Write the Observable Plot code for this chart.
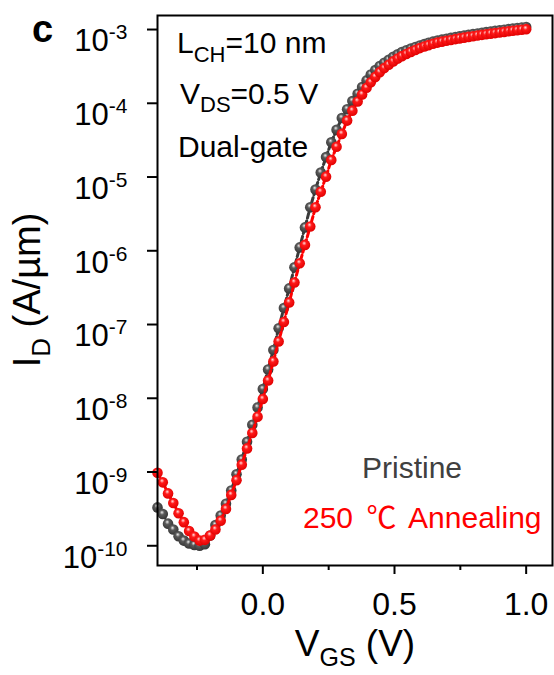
<!DOCTYPE html>
<html><head><meta charset="utf-8">
<script src="https://cdn.jsdelivr.net/npm/d3@7"></script>
<script src="https://cdn.jsdelivr.net/npm/@observablehq/plot@0.6"></script>
<style>html,body{margin:0;padding:0;background:#fff} svg{display:block}</style>
</head><body><div id="chart"></div>
<script>
// V_GS grid (V)
const vgs = [
  -0.40,-0.38,-0.36,-0.34,-0.32,-0.30,-0.28,-0.26,-0.24,-0.22,
  -0.20,-0.18,-0.16,-0.14,-0.12,-0.10,-0.08,-0.06,-0.04,-0.02,
   0.00, 0.02, 0.04, 0.06, 0.08, 0.10, 0.12, 0.14, 0.16, 0.18,
   0.20, 0.22, 0.24, 0.26, 0.28, 0.30, 0.32, 0.34,
   0.360,0.377,0.394,0.410,0.427,0.444,0.461,0.478,0.495,0.512,
   0.528,0.545,0.562,0.579,0.596,0.613,0.629,0.646,0.663,0.680,
   0.697,0.714,0.731,0.747,0.764,0.781,0.798,0.815,0.832,0.848,
   0.865,0.882,0.899,0.916,0.933,0.949,0.966,0.983,1.000
];
// log10 of I_D (A/um), Pristine
const logIdPristine = [
  -9.48,-9.57,-9.70,-9.78,-9.87,-9.93,-9.97,-9.99,-10.00,-9.98,
  -9.86,-9.72,-9.59,-9.43,-9.25,-9.03,-8.83,-8.59,-8.36,-8.125,
  -7.875,-7.61,-7.345,-7.05,-6.776,-6.51,-6.225,-5.954,-5.683,-5.411,
  -5.17,-4.94,-4.73,-4.53,-4.36,-4.20,-4.08,-3.97,
  -3.87,-3.78,-3.69,-3.61,-3.55,-3.495,-3.45,-3.41,-3.37,-3.335,
  -3.305,-3.28,-3.258,-3.236,-3.216,-3.197,-3.18,-3.164,-3.15,-3.137,
  -3.125,-3.113,-3.102,-3.092,-3.082,-3.072,-3.062,-3.053,-3.044,-3.035,
  -3.027,-3.018,-3.01,-3.002,-2.994,-2.987,-2.979,-2.972,-2.965
];
// log10 of I_D (A/um), 250 C annealing
const logIdAnnealed = [
  -9.01,-9.14,-9.29,-9.42,-9.56,-9.68,-9.80,-9.875,-9.93,-9.92,
  -9.86,-9.78,-9.66,-9.50,-9.31,-9.11,-8.90,-8.68,-8.47,-8.25,
  -8.01,-7.76,-7.50,-7.23,-6.965,-6.70,-6.43,-6.17,-5.92,-5.67,
  -5.41,-5.20,-4.995,-4.77,-4.59,-4.415,-4.235,-4.10,
  -3.975,-3.88,-3.79,-3.715,-3.642,-3.578,-3.523,-3.478,-3.432,-3.394,
  -3.361,-3.331,-3.303,-3.277,-3.252,-3.230,-3.212,-3.193,-3.177,-3.164,
  -3.152,-3.141,-3.130,-3.120,-3.110,-3.100,-3.091,-3.081,-3.072,-3.064,
  -3.056,-3.048,-3.040,-3.032,-3.024,-3.016,-3.009,-3.002,-2.995
];
const yTicks = [1e-3,1e-4,1e-5,1e-6,1e-7,1e-8,1e-9,1e-10];
const xMajorTicks = [0, 0.5, 1.0];
const xMinorTicks = [-0.25, 0.25, 0.75];

const pristine = vgs.map((v, i) => ({v, id: Math.pow(10, logIdPristine[i])}));
const annealed = vgs.map((v, i) => ({v, id: Math.pow(10, logIdAnnealed[i])}));

const FONT = "'Liberation Sans', Arial, 'Noto Sans CJK SC', sans-serif";

const plot = Plot.plot({
  width: 554, height: 675,
  marginLeft: 157, marginRight: 2, marginTop: 15, marginBottom: 110,
  style: {fontFamily: FONT, background: "#fff", color: "#000"},
  x: {domain: [-0.4, 1.1]},
  y: {type: "log", domain: [5.4e-11, 1.55e-3]},
  marks: [
    Plot.line(pristine, {x: "v", y: "id", stroke: "#3a3a3a", strokeWidth: 3, strokeDasharray: "5,3"}),
    Plot.dot(pristine, {x: "v", y: "id", r: 5.3, fill: "url(#gGray)", stroke: "none"}),
    Plot.line(annealed, {x: "v", y: "id", stroke: "#ff0000", strokeWidth: 3, strokeDasharray: "5,3"}),
    Plot.dot(annealed, {x: "v", y: "id", r: 5.3, fill: "url(#gRed)", stroke: "none"}),
    Plot.frame({stroke: "#000", strokeWidth: 2}),
    Plot.axisX({ticks: xMajorTicks, tickSize: 9, tickPadding: 18, strokeWidth: 2, fontSize: 32,
      tickFormat: d => d.toFixed(1), label: null}),
    Plot.axisX({ticks: xMinorTicks, tickSize: 5, strokeWidth: 2, tickFormat: () => "", label: null}),
    Plot.axisY({ticks: yTicks, tickSize: 10, tickPadding: 20, strokeWidth: 2, fontSize: 31,
      tickFormat: d => String(Math.round(Math.log10(d))), label: null})
  ]
});

const svg = d3.select(plot);
svg.attr("font-family", FONT);
const defs = svg.insert("defs", ":first-child");
function sphere(id, hi, mid, edge) {
  const g = defs.append("radialGradient").attr("id", id)
    .attr("cx", "0.45").attr("cy", "0.42").attr("r", "0.6").attr("fx", "0.42").attr("fy", "0.33");
  g.append("stop").attr("offset", "0").attr("stop-color", hi);
  g.append("stop").attr("offset", "0.35").attr("stop-color", mid);
  g.append("stop").attr("offset", "1").attr("stop-color", edge);
}
sphere("gGray", "#eeeeee", "#5a5a5a", "#333333");
sphere("gRed", "#ffe0e0", "#ff1a1a", "#e00000");

// y tick labels as 10^n with raised exponent
svg.selectAll('g[aria-label="y-axis tick label"] text').each(function() {
  const t = d3.select(this);
  const exp = t.text();
  t.text("").attr("dy", null).attr("transform", (t.attr("transform") || "") + " translate(0,12)");
  t.append("tspan").text("10");
  t.append("tspan").attr("font-size", 21).attr("dy", -12).text(exp);
});

function addText(x, y, parts, opt = {}) {
  const t = svg.append("text").attr("x", x).attr("y", y)
    .attr("fill", opt.fill || "#000")
    .attr("font-size", opt.size || 30)
    .attr("text-anchor", opt.anchor || "start");
  if (opt.weight) t.attr("font-weight", opt.weight);
  if (opt.transform) t.attr("transform", opt.transform);
  for (const p of parts) {
    const s = t.append("tspan").text(p[0]);
    if (p[1]) s.attr("font-size", p[1]);
    if (p[2]) s.attr("dy", p[2]);
    if (p[3]) s.attr("font-family", p[3]);
    if (p[4]) s.attr("dx", p[4]);
  }
  return t;
}

addText(32, 42, [["c"]], {size: 38, weight: "bold"});
addText(177, 53, [["L"], ["CH", 22, 9], ["=10 nm", null, -9]]);
addText(180, 104, [["V"], ["DS", 22, 8], ["=0.5 V", null, -8]]);
addText(178, 157, [["Dual-gate"]]);
addText(362, 478, [["Pristine"]], {fill: "#404040"});
addText(303, 528, [["250 "], ["℃", null, null, "'Noto Sans CJK SC', sans-serif", 5], [" Annealing", null, null, null, 5]], {fill: "#ff0000"});
addText(355, 656, [["V"], ["GS", 25, 10], [" (V)", null, -10]], {size: 37, anchor: "middle"});
addText(0, 0, [["I"], ["D", 26, 10], [" (A/µm)", null, -10]],
  {size: 38, anchor: "middle", transform: "translate(40,290) rotate(-90)"});

document.getElementById("chart").appendChild(plot);
</script>
</body></html>
